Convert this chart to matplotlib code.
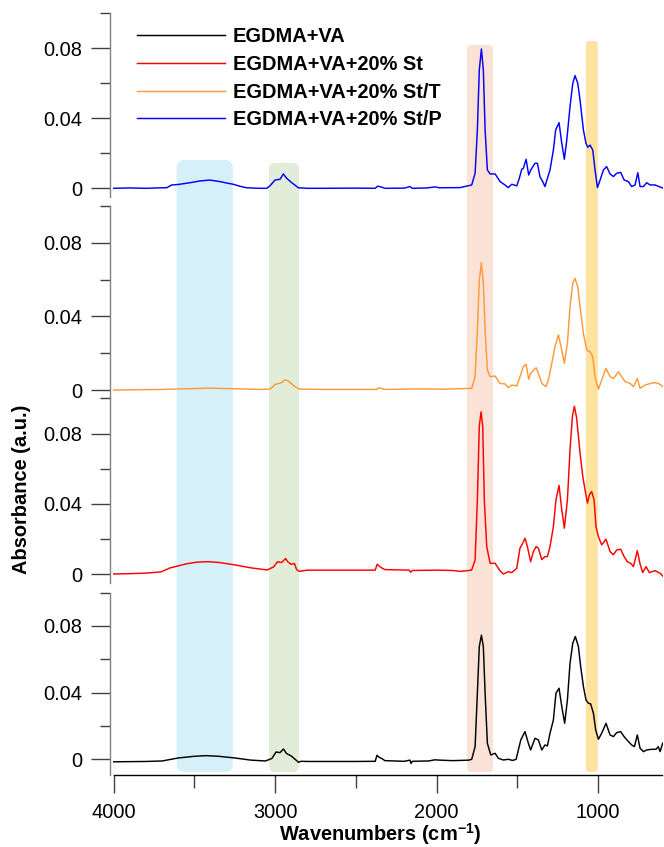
import matplotlib
matplotlib.use("Agg")
import matplotlib.pyplot as plt
from matplotlib.patches import FancyBboxPatch
from matplotlib.ticker import FixedLocator, FuncFormatter

plt.rcParams["font.family"] = ["Liberation Sans", "DejaVu Sans"]
plt.rcParams["mathtext.fontset"] = "custom"
plt.rcParams["mathtext.rm"] = "Liberation Sans"
plt.rcParams["mathtext.bf"] = "Liberation Sans:bold"

# ---------------------------------------------------------------- data
labels = ["EGDMA+VA", "EGDMA+VA+20% St", "EGDMA+VA+20% St/T", "EGDMA+VA+20% St/P"]
colors = ["#000000", "#ff0000", "#ff9a3c", "#0000ff"]

# EGDMA+VA
va_wn = [4000, 3800, 3700, 3600, 3500, 3428, 3350, 3250, 3150, 3060, 3020, 2994, 2970,
         2948, 2930, 2900, 2870, 2855, 2840, 2800, 2500, 2380, 2369, 2355, 2340, 2320,
         2200, 2165, 2158, 2150, 2050, 2010, 1980, 1900, 1800,
         1782, 1761, 1747, 1735, 1722, 1710, 1699, 1685, 1664, 1637, 1617, 1586, 1555,
         1528, 1507, 1493, 1478, 1452, 1431, 1417, 1390, 1369, 1348, 1328, 1313, 1297,
         1276, 1260, 1241, 1224, 1206, 1189, 1173, 1156, 1140, 1121, 1107, 1090, 1074,
         1059, 1045, 1028, 1014, 997, 977, 950, 925, 904, 884, 859, 838, 811, 791, 774,
         756, 739, 718, 698, 667, 640, 626, 615, 599]
va_abs = [-0.0015, -0.0013, -0.0010, 0.0008, 0.0018, 0.0022, 0.0018, 0.0008, -0.0005,
          -0.0010, 0.0005, 0.0044, 0.0040, 0.0062, 0.0035, 0.0020, -0.0005, -0.0018,
          -0.0012, -0.0013, -0.0013, -0.0012, 0.0024, 0.0012, 0.0005, -0.0008, -0.0012,
          -0.0005, -0.0025, -0.0012, -0.0010, -0.0003, -0.0005, -0.0008, -0.0005,
          0.0000, 0.0076, 0.0396, 0.0676, 0.0744, 0.0676, 0.0396, 0.0096, 0.0026, 0.0036,
          0.0006, -0.0004, 0.0000, -0.0007, 0.0000, 0.0056, 0.0116, 0.0166, 0.0096,
          0.0056, 0.0126, 0.0116, 0.0056, 0.0086, 0.0080, 0.0156, 0.0236, 0.0396, 0.0426,
          0.0316, 0.0216, 0.0356, 0.0576, 0.0696, 0.0736, 0.0676, 0.0556, 0.0436, 0.0356,
          0.0336, 0.0332, 0.0276, 0.0176, 0.0120, 0.0156, 0.0216, 0.0146, 0.0136, 0.0160,
          0.0166, 0.0136, 0.0106, 0.0086, 0.0076, 0.0146, 0.0066, 0.0046, 0.0056, 0.0060,
          0.0060, 0.0076, 0.0046, 0.0096]

# EGDMA+VA+20% St
st_wn = [4000, 3900, 3800, 3707, 3650, 3550, 3480, 3418, 3350, 3250, 3150, 3050, 3010,
         2985, 2960, 2935, 2920, 2900, 2880, 2867, 2850, 2800, 2600, 2380, 2368, 2355,
         2340, 2320, 2170, 2160, 2150, 2000, 1900, 1850, 1800,
         1782, 1761, 1747, 1735, 1724, 1714, 1704, 1689, 1668, 1637, 1607, 1586, 1555,
         1534, 1503, 1483, 1466, 1452, 1437, 1417, 1400, 1383, 1369, 1348, 1328, 1313,
         1297, 1276, 1260, 1241, 1224, 1208, 1189, 1173, 1158, 1146, 1132, 1111, 1094,
         1080, 1065, 1053, 1039, 1024, 1012, 997, 977, 950, 925, 904, 884, 859, 838, 818,
         797, 780, 756, 739, 723, 702, 681, 646, 615, 595]
st_abs = [0.0000, 0.0002, 0.0005, 0.0012, 0.0035, 0.0058, 0.0068, 0.0070, 0.0066, 0.0052,
          0.0035, 0.0023, 0.0040, 0.0070, 0.0065, 0.0088, 0.0068, 0.0055, 0.0060, 0.0025,
          0.0015, 0.0022, 0.0022, 0.0022, 0.0055, 0.0045, 0.0035, 0.0025, 0.0022, 0.0010,
          0.0020, 0.0022, 0.0020, 0.0015, 0.0020,
          0.0023, 0.0080, 0.0423, 0.0842, 0.0924, 0.0842, 0.0423, 0.0156, 0.0061, 0.0061,
          0.0019, 0.0000, 0.0013, 0.0008, 0.0032, 0.0147, 0.0175, 0.0204, 0.0156, 0.0070,
          0.0128, 0.0156, 0.0147, 0.0082, 0.0099, 0.0099, 0.0156, 0.0270, 0.0423, 0.0505,
          0.0366, 0.0261, 0.0423, 0.0709, 0.0899, 0.0956, 0.0889, 0.0690, 0.0556, 0.0480,
          0.0404, 0.0451, 0.0470, 0.0423, 0.0270, 0.0213, 0.0166, 0.0198, 0.0128, 0.0110,
          0.0137, 0.0141, 0.0099, 0.0070, 0.0061, 0.0042, 0.0133, 0.0057, 0.0008, 0.0042,
          0.0008, 0.0019, 0.0004, -0.0015]

# EGDMA+VA+20% St/T
stt_wn = [4000, 3700, 3500, 3400, 3300, 3100, 3030, 3000, 2960, 2940, 2920, 2880, 2850,
          2700, 2370, 2360, 2340, 2320, 2100, 2000, 1978,
          1782, 1761, 1747, 1735, 1722, 1710, 1699, 1685, 1668, 1637, 1607, 1576, 1555,
          1534, 1503, 1483, 1462, 1445, 1429, 1417, 1383, 1369, 1348, 1322, 1307, 1286,
          1266, 1245, 1224, 1208, 1189, 1173, 1156, 1142, 1125, 1111, 1090, 1070, 1049,
          1032, 1018, 997, 977, 950, 925, 904, 873, 853, 832, 801, 780, 756, 739, 708,
          657, 626, 595]
stt_abs = [0.0000, 0.0003, 0.0008, 0.0010, 0.0008, 0.0003, 0.0005, 0.0030, 0.0040,
           0.0055, 0.0050, 0.0020, 0.0005, 0.0003, 0.0003, 0.0012, 0.0008, 0.0003,
           0.0006, 0.0005, 0.0004,
           0.0009, 0.0072, 0.0326, 0.0598, 0.0692, 0.0580, 0.0326, 0.0109, 0.0072,
           0.0076, 0.0036, 0.0033, 0.0013, 0.0027, 0.0022, 0.0072, 0.0127, 0.0140,
           0.0058, 0.0090, 0.0121, 0.0090, 0.0036, 0.0018, 0.0054, 0.0145, 0.0236,
           0.0299, 0.0217, 0.0145, 0.0254, 0.0453, 0.0580, 0.0607, 0.0562, 0.0453,
           0.0308, 0.0217, 0.0208, 0.0180, 0.0072, 0.0004, 0.0054, 0.0118, 0.0072,
           0.0063, 0.0099, 0.0072, 0.0045, 0.0036, 0.0018, 0.0063, 0.0009, 0.0027,
           0.0040, 0.0036, 0.0018]

# EGDMA+VA+20% St/P
stp_wn = [4000, 3900, 3800, 3700, 3672, 3641, 3600, 3548, 3500, 3465, 3403, 3341, 3300,
          3259, 3220, 3176, 3100, 3052, 3032, 3001, 2985, 2970, 2949, 2928, 2897, 2856,
          2800, 2700, 2500, 2380, 2365, 2345, 2320, 2200, 2165, 2150, 2060, 2010, 1990,
          1978, 1854,
          1782, 1761, 1747, 1735, 1722, 1710, 1699, 1685, 1668, 1637, 1606, 1576, 1555,
          1534, 1503, 1487, 1472, 1462, 1445, 1429, 1416, 1390, 1375, 1359, 1342, 1328,
          1313, 1297, 1276, 1262, 1241, 1224, 1208, 1193, 1173, 1156, 1142, 1125, 1111,
          1090, 1074, 1063, 1049, 1032, 1018, 1003, 983, 966, 946, 925, 904, 884, 859,
          838, 811, 791, 770, 753, 739, 718, 698, 677, 646, 594]
stp_abs = [0.0000, 0.0002, 0.0000, 0.0003, 0.0003, 0.0019, 0.0022, 0.0029, 0.0036,
           0.0042, 0.0047, 0.0038, 0.0030, 0.0023, 0.0012, 0.0003, 0.0000, 0.0000,
           0.0014, 0.0047, 0.0050, 0.0051, 0.0082, 0.0057, 0.0032, 0.0003, 0.0000,
           0.0000, 0.0001, 0.0000, 0.0012, 0.0008, 0.0000, 0.0001, 0.0010, 0.0000,
           0.0002, 0.0008, 0.0004, 0.0003, 0.0004,
           0.0019, 0.0086, 0.0333, 0.0676, 0.0796, 0.0676, 0.0333, 0.0105, 0.0082,
           0.0082, 0.0038, 0.0019, 0.0004, 0.0023, 0.0014, 0.0057, 0.0109, 0.0114,
           0.0166, 0.0076, 0.0105, 0.0143, 0.0143, 0.0066, 0.0038, 0.0010, 0.0057,
           0.0105, 0.0219, 0.0333, 0.0375, 0.0257, 0.0166, 0.0276, 0.0466, 0.0600,
           0.0644, 0.0600, 0.0505, 0.0333, 0.0257, 0.0234, 0.0247, 0.0219, 0.0105,
           0.0004, 0.0057, 0.0105, 0.0124, 0.0082, 0.0067, 0.0086, 0.0091, 0.0048,
           0.0038, 0.0010, 0.0019, 0.0089, 0.0010, 0.0010, 0.0032, 0.0019, 0.0019,
           0.0000]

series = [(va_wn, va_abs), (st_wn, st_abs), (stt_wn, stt_abs), (stp_wn, stp_abs)]

# highlighted absorption bands (wavenumber range, colour)
bands = [(3610, 3262, "#d5f0f8"), (3038, 2852, "#e1edd8"),
         (1811, 1650, "#fbe2d6"), (1074, 1001, "#fee3a0")]

# ---------------------------------------------------------------- layout
W, H = 664, 847
fig = plt.figure(figsize=(W / 100, H / 100), dpi=100)
fig.patch.set_facecolor("white")

X_LEFT, X_RIGHT = 4023, 600
left_px, right_px = 110, 662.5
ax_left = left_px / W
ax_width = (right_px - left_px) / W
px_per_unit = (right_px - left_px) / (X_LEFT - X_RIGHT)

# background layer for band highlights (y in pixel units from bottom)
bg = fig.add_axes([ax_left, 0, ax_width, 1])
bg.set_xlim(X_LEFT, X_RIGHT)
bg.set_ylim(0, H)
bg.axis("off")
band_tops = [160, 163, 45, 41]
band_radius = [8, 6, 4, 3]
band_bottom = 772
for (hi, lo, col), top, r in zip(bands, band_tops, band_radius):
    box = FancyBboxPatch((lo, H - band_bottom), hi - lo, band_bottom - top,
                         boxstyle=f"round,pad=0,rounding_size={r / px_per_unit}",
                         mutation_aspect=px_per_unit, facecolor=col,
                         edgecolor="none")
    bg.add_patch(box)

# panels from top to bottom: (top px, bottom px, zero-line px)
panel_geom = [(13.3, 197, 188.3), (206, 398, 390), (398.5, 582.7, 574),
              (592.5, 775, 759.3)]
panel_series = [3, 2, 1, 0]

fs = 14.4
lines = {}
axes = []
for (top, bot, z), si in zip(panel_geom, panel_series):
    ax = fig.add_axes([ax_left, 1 - bot / H, ax_width, (bot - top) / H])
    ax.set_facecolor("none")
    wn, ab = series[si]
    ln, = ax.plot(wn, ab, color=colors[si], lw=1.05, solid_joinstyle="round")
    lines[si] = ln
    ax.set_xlim(X_LEFT, X_RIGHT)
    scale = (z - top) / 0.1
    ax.set_ylim(-(bot - z) / scale, 0.1)
    for s in ["top", "right", "bottom"]:
        ax.spines[s].set_visible(False)
    ax.spines["left"].set_color("#808080")
    ax.spines["left"].set_linewidth(1.0)
    ax.yaxis.set_major_locator(FixedLocator([0, 0.04, 0.08]))
    ax.yaxis.set_minor_locator(FixedLocator([0.02, 0.06, 0.1]))
    ax.yaxis.set_major_formatter(
        FuncFormatter(lambda v, p: "0" if abs(v) < 1e-9 else f"{v:.2f}"))
    ax.tick_params(axis="y", which="major", direction="out", length=13.7, width=1.0,
                   color="#404040", labelsize=fs, pad=6.5)
    ax.tick_params(axis="y", which="minor", direction="out", length=7.2, width=1.0,
                   color="#404040")
    ax.tick_params(axis="x", which="both", bottom=False, labelbottom=False)
    axes.append(ax)

axb = axes[-1]
axb.spines["bottom"].set_visible(True)
axb.spines["bottom"].set_bounds(4000, X_RIGHT)
axb.spines["bottom"].set_color("black")
axb.spines["bottom"].set_linewidth(1.0)
axb.xaxis.set_major_locator(FixedLocator([4000, 3000, 2000, 1000]))
axb.xaxis.set_minor_locator(FixedLocator([3500, 2500, 1500]))
axb.tick_params(axis="x", which="major", bottom=True, labelbottom=True, direction="out",
                length=13, width=1.0, color="#404040", labelsize=fs, pad=7.0)
axb.tick_params(axis="x", which="minor", bottom=True, direction="out", length=9.5,
                width=1.0, color="#404040")

fig.text(380 / W, 1 - 841 / H, r"Wavenumbers (cm$^{\mathbf{-1}}$)", ha="center",
         va="baseline", fontsize=fs, fontweight="bold")
fig.text(22 / W, 1 - 489 / H, "Absorbance (a.u.)", rotation=90, ha="center",
         va="center", fontsize=fs, fontweight="bold")

fig.legend([lines[i] for i in range(4)], labels, loc="upper left",
           bbox_to_anchor=(137 / W, 1 - 27 / H), frameon=False,
           prop={"size": fs, "weight": "bold"}, handlelength=4.4,
           handletextpad=0.4, labelspacing=0.44, borderpad=0, borderaxespad=0)

fig.savefig("out.png", dpi=100)
